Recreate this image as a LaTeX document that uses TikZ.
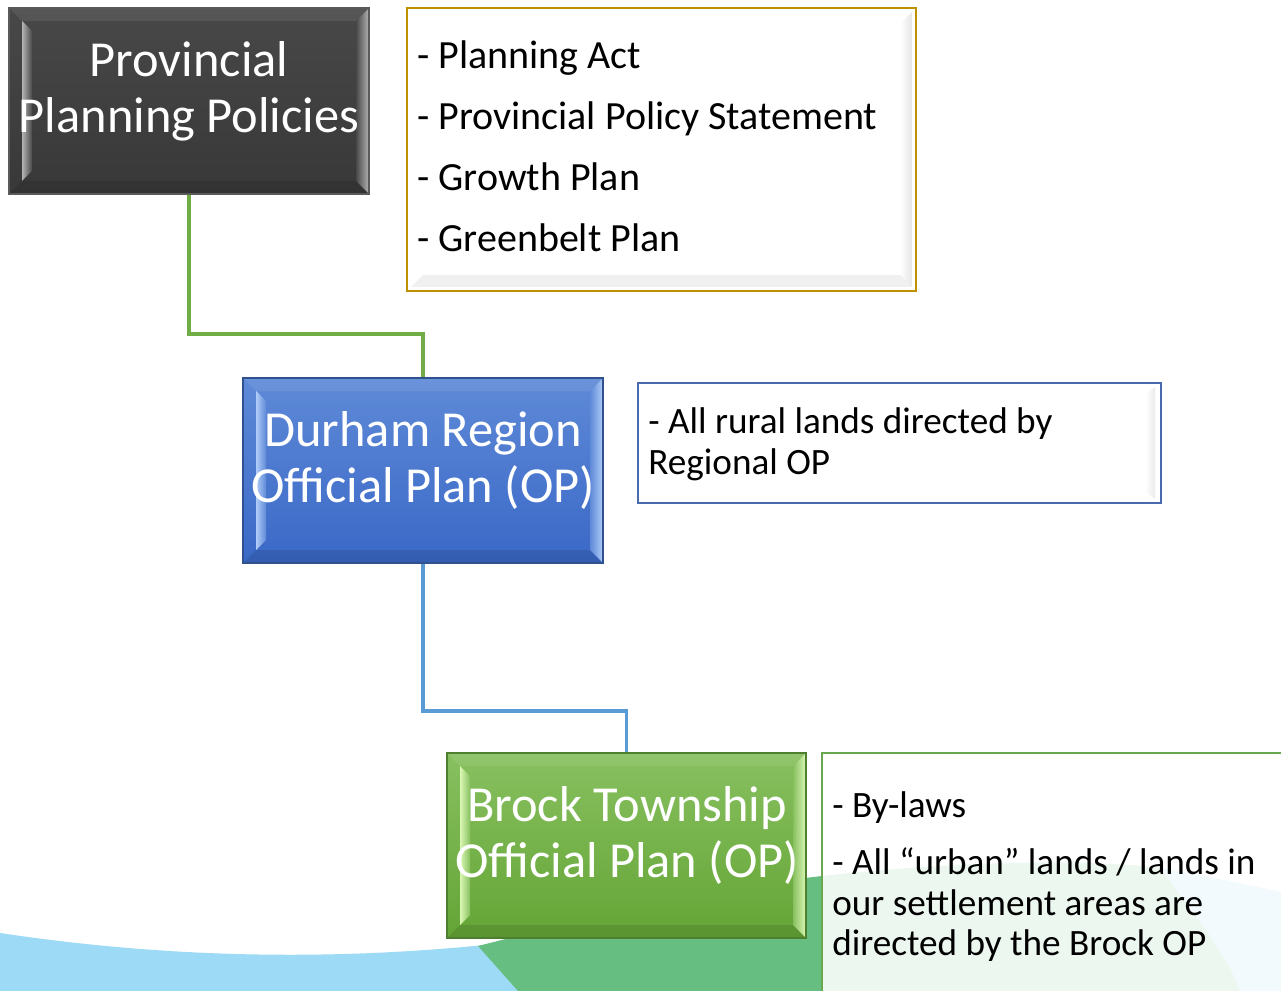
\documentclass[tikz,border=0pt]{standalone}
\usepackage{fontspec}
\setmainfont{Carlito}
\usetikzlibrary{calc}
\definecolor{bgblue}{HTML}{9CDAF5}
\definecolor{bggreen}{HTML}{66BF80}
\definecolor{pfilltop}{HTML}{484848}
\definecolor{pfillbot}{HTML}{383838}
\definecolor{plight}{HTML}{B4B4B4}
\definecolor{pborder}{HTML}{5A5A5A}
\definecolor{dfilltop}{HTML}{5F8AD8}
\definecolor{dfillbot}{HTML}{3A68C6}
\definecolor{dlight}{HTML}{B0CCF8}
\definecolor{dborder}{HTML}{2F528F}
\definecolor{bfilltop}{HTML}{88C060}
\definecolor{bfillbot}{HTML}{64A536}
\definecolor{blight}{HTML}{DAF8B4}
\definecolor{bborder}{HTML}{4E7F2E}
\definecolor{gold}{HTML}{BF9000}
\definecolor{nblue}{HTML}{4A6AAE}
\definecolor{ngreen}{HTML}{6AA84F}
\definecolor{lineg}{HTML}{70AD47}
\definecolor{lineb}{HTML}{5B9BD5}
\newcommand\bevelfx[4]{%
  % #1 node, #2 light colour, #3 base colour, #4 border colour
  \fill[white,opacity=.08] (#1.north west) -- ($(#1.north west)+(13,13)$) -- ($(#1.north east)+(-13,13)$) -- (#1.north east) -- cycle;
  \fill[black,opacity=.10] (#1.south west) -- ($(#1.south west)+(13,-13)$) -- ($(#1.south east)+(-13,-13)$) -- (#1.south east) -- cycle;
  \shade[left color=#2, right color=#3] ($(#1.north west)+(13,13)$) -- ($(#1.north west)+(23,23)$) -- ($(#1.south west)+(23,-23)$) -- ($(#1.south west)+(13,-13)$) -- cycle;
  \shade[left color=#3, right color=#2] ($(#1.north east)+(-13,13)$) -- (#1.north east) -- (#1.south east) -- ($(#1.south east)+(-13,-13)$) -- cycle;
  \draw[#4,line width=.8pt] (#1.north west) rectangle (#1.south east);
}
\begin{document}
\begin{tikzpicture}[x=0.75pt,y=-0.75pt,
  box/.style={rectangle,inner sep=0pt,outer sep=0pt},
  titletxt/.style={text=white,font=\fontsize{37.8}{42}\selectfont,anchor=base,inner sep=0pt},
  listtxt/.style={text=black,font=\fontsize{30}{35}\selectfont,anchor=base west,inner sep=0pt},
  notetxt/.style={text=black,font=\fontsize{27.9}{31}\selectfont,anchor=base west,inner sep=0pt},
  conn/.style={line width=2.3pt}]
\useasboundingbox (0,0) rectangle (1281,991);
\clip (0,0) rectangle (1281,991);
\fill[white] (0,0) rectangle (1281,991);
% background landscape
\fill[bgblue] (0,933) .. controls (193,962) and (387,962) .. (580,933) -- (700,915) -- (700,991) -- (0,991) -- cycle;
\fill[bggreen] (478,946) .. controls (600,915) and (700,890) .. (822,876) .. controls (950,862) and (1080,858) .. (1160,868) .. controls (1200,920) and (1230,960) .. (1240,991) -- (518,991) -- cycle;
\fill[bgblue] (1160,868) .. controls (1200,875) and (1250,885) .. (1281,892) -- (1281,991) -- (1240,991) .. controls (1230,960) and (1200,920) .. (1160,868) -- cycle;
% boxes
\node[box,minimum width=270pt,minimum height=139.5pt,top color=pfilltop,bottom color=pfillbot] (P) at (189,101) {};
\node[box,minimum width=381.75pt,minimum height=212.25pt,fill=white] (L) at (661.5,149.5) {};
\node[box,minimum width=270pt,minimum height=138.75pt,top color=dfilltop,bottom color=dfillbot] (D) at (423,470.5) {};
\node[box,minimum width=392.25pt,minimum height=90pt,fill=white] (DN) at (899.5,443) {};
\node[box,minimum width=269.25pt,minimum height=138.75pt,top color=bfilltop,bottom color=bfillbot] (B) at (626.5,845.5) {};
\node[box,minimum width=358.5pt,minimum height=192.75pt,fill=white,fill opacity=.88] (BN) at (1061,881.5) {};
% connectors
\draw[conn,lineg] (P.south) -- ++(0,140) -| (D.north);
\draw[conn,lineb] (D.south) -- ++(0,148) -| (B.north);
% bevels
\bevelfx{P}{plight}{pfilltop}{pborder}
\bevelfx{D}{dlight}{dfilltop}{dborder}
\bevelfx{B}{blight}{bfilltop}{bborder}
\shade[left color=white, right color=black!10] ($(L.north east)+(-16,16)$) -- ($(L.north east)+(-4,4)$) -- ($(L.south east)+(-4,-4)$) -- ($(L.south east)+(-16,-16)$) -- cycle;
\fill[black,opacity=.06] ($(L.south west)+(4,-4)$) -- ($(L.south west)+(16,-16)$) -- ($(L.south east)+(-16,-16)$) -- ($(L.south east)+(-4,-4)$) -- cycle;
\draw[gold,line width=1.4pt] (L.north west) rectangle (L.south east);
\shade[left color=white, right color=black!8] ($(DN.north east)+(-16,12)$) -- ($(DN.north east)+(-6,4)$) -- ($(DN.south east)+(-6,-4)$) -- ($(DN.south east)+(-16,-12)$) -- cycle;
\draw[nblue,line width=1.4pt] (DN.north west) rectangle (DN.south east);
\draw[ngreen,line width=1.4pt] (BN.south west) -- (BN.north west) -- (BN.north east);
% texts
\node[titletxt] (p1) at (189,77) {Provincial};
\node[titletxt] (p2) at (189,133) {Planning Policies};
\node[listtxt] (l1) at (417,69) {- Planning Act};
\node[listtxt] (l2) at (417,130) {- Provincial Policy Statement};
\node[listtxt] (l3) at (417,191) {- Growth Plan};
\node[listtxt] (l4) at (417,252) {- Greenbelt Plan};
\node[titletxt] (d1) at (423,446) {Durham Region};
\node[titletxt] (d2) at (423,502) {Official Plan (OP)};
\node[notetxt] (n1) at (648,433) {- All rural lands directed by};
\node[notetxt] (n2) at (648,474) {Regional OP};
\node[titletxt] (b1) at (627,821) {Brock Township};
\node[titletxt] (b2) at (627,877) {Official Plan (OP)};
\node[notetxt] (m1) at (832,817) {- By-laws};
\node[notetxt] (m2) at (832,874) {- All “urban” lands / lands in};
\node[notetxt] (m3) at (832,915) {our settlement areas are};
\node[notetxt] (m4) at (832,955) {directed by the Brock OP};
\end{tikzpicture}
\end{document}
